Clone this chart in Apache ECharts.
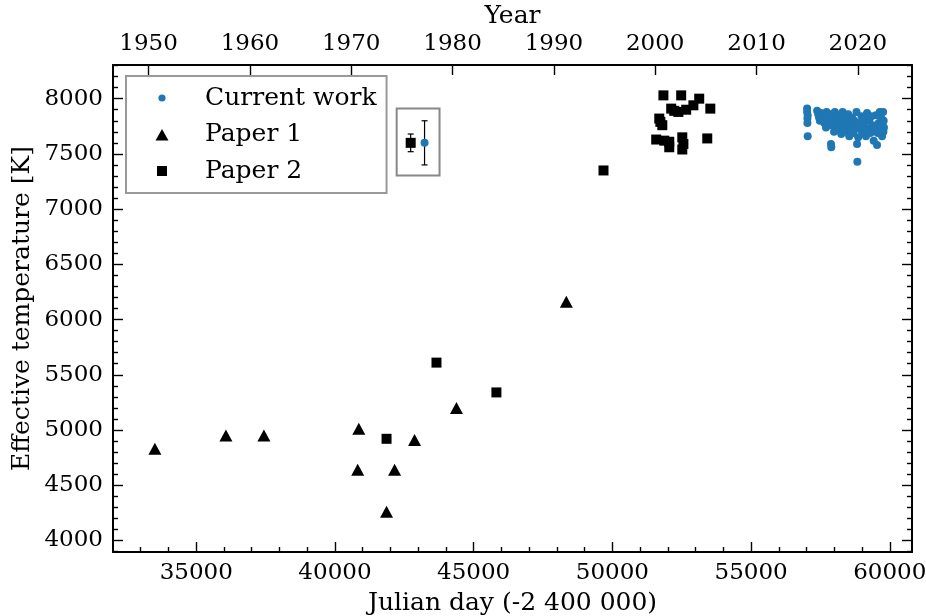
<!DOCTYPE html>
<html>
<head>
<meta charset="utf-8">
<script src="https://cdn.jsdelivr.net/npm/echarts@6/dist/echarts.min.js"></script>
<style>
  html, body { margin: 0; padding: 0; background: #fff; }
  #chart { width: 926px; height: 616px; }
</style>
</head>
<body>
<div id="chart"></div>
<script>
// Julian day (-2 400 000) and effective temperature [K] for each source
const currentWorkJD = [
  57020, 57020, 57040, 57030, 57030, 57040,
  57380, 57420, 57450, 57480, 57520, 57560, 57600, 57640, 57680, 57700,
  57720, 57760, 57800, 57850, 57880, 57890, 57900, 57950, 57990, 58020,
  58060, 58100, 58150, 58180, 58200, 58250, 58280, 58300, 58350, 58390,
  58420, 58460, 58500, 58540, 58560, 58600, 58640, 58680, 58720, 58760,
  58800, 58820, 58830, 58860, 58900, 58940, 58980, 59020, 59060, 59100,
  59140, 59180, 59220, 59260, 59300, 59340, 59380, 59420, 59450, 59500,
  59540, 59560, 59600, 59640, 59680, 59700, 59720, 59760, 59780, 59790, 59770
];
const currentWorkTeff = [
  7910, 7880, 7850, 7820, 7780, 7660,
  7890, 7860, 7830, 7800, 7870, 7840, 7810, 7780, 7850, 7740,
  7880, 7820, 7790, 7860, 7590, 7560, 7760, 7830, 7700, 7880,
  7800, 7750, 7850, 7720, 7810, 7680, 7770, 7880, 7740, 7820,
  7700, 7790, 7860, 7660, 7760, 7720, 7830, 7690, 7800, 7740,
  7880, 7590, 7430, 7650, 7780, 7720, 7840, 7690, 7760, 7820,
  7660, 7870, 7730, 7800, 7690, 7840, 7760, 7620, 7720, 7850,
  7580, 7690, 7780, 7880, 7740, 7820, 7660, 7880, 7800, 7740, 7700
];

const paper1JD   = [33510, 36070, 37440, 40860, 40820, 41860, 42150, 42870, 44380, 48340];
const paper1Teff = [ 4830,  4950,  4950,  5010,  4640,  4260,  4640,  4910,  5200,  6160];

const paper2JD = [
  41860, 43660, 45820, 49680,
  51840, 52480, 53130, 53530, 52120, 52380, 52660, 52920, 51690, 51800,
  51580, 51870, 52050, 52050, 52520, 52520, 52560, 53420, 52230, 51730
];
const paper2Teff = [
  4920, 5610, 5340, 7350,
  8030, 8030, 8000, 7910, 7910, 7880, 7900, 7940, 7820, 7760,
  7630, 7620, 7560, 7610, 7650, 7540, 7590, 7640, 7890, 7790
];

// Typical uncertainties (Paper 2, Current work), drawn inside the small frame
const typicalJD   = [42730, 43230];
const typicalTeff = [7600, 7600];
const typicalErr  = [80, 200];

// Tick values
const jdTicks   = [35000, 40000, 45000, 50000, 55000, 60000];
const yearTicks = [1950, 1960, 1970, 1980, 1990, 2000, 2010, 2020];
const teffTicks = [4000, 4500, 5000, 5500, 6000, 6500, 7000, 7500, 8000];

// ---- layout / styling ----
const JD_MIN = 32000, JD_MAX = 60800;
const T_MIN = 3895, T_MAX = 8305;
const insetFrame = { jd: [42225, 43770], teff: [7305, 7912] };
const FONT = "'DejaVu Serif', 'Liberation Serif', serif";
const BLUE = '#1f77b4';

const yearToJD = y => 51544.5 + (y - 2000) * 365.25;
const jdToYear = jd => Math.round((jd - 51544.5) / 365.25 + 2000);

const range = (a, b, s) => { const r = []; for (let v = a; v <= b + 1e-9; v += s) r.push(v); return r; };
const jdMinor = range(33000, 60000, 1000).filter(v => jdTicks.indexOf(v) < 0);
const teffMinor = range(3900, 8300, 100).filter(v => teffTicks.indexOf(v) < 0);
const yearJD = yearTicks.map(yearToJD);

const zip = (a, b) => a.map((v, i) => [v, b[i]]);

const tickStyle = { color: '#000', width: 1.4 };
const labelStyle = { color: '#000', fontFamily: FONT, fontSize: 23 };
const nameStyle = { color: '#000', fontFamily: FONT, fontSize: 25 };
const plain = v => String(Math.round(v));

function xAxisBase(extra) {
  return Object.assign({
    type: 'value', gridIndex: 0, min: JD_MIN, max: JD_MAX,
    splitLine: { show: false },
    axisLine: { show: false },
    axisLabel: { show: false },
    axisTick: { show: false }
  }, extra);
}
function yAxisBase(extra) {
  return Object.assign({
    type: 'value', gridIndex: 0, min: T_MIN, max: T_MAX,
    splitLine: { show: false },
    axisLine: { show: false },
    axisLabel: { show: false },
    axisTick: { show: false }
  }, extra);
}

const option = {
  animation: false,
  backgroundColor: '#fff',
  grid: { left: 113, right: 14, top: 65, bottom: 64, containLabel: false, outerBoundsMode: 'none' },
  xAxis: [
    xAxisBase({
      position: 'bottom',
      axisLine: { show: true, onZero: false, lineStyle: { color: '#000', width: 2 } },
      axisTick: { show: true, inside: true, length: 10, customValues: jdTicks, lineStyle: tickStyle },
      axisLabel: Object.assign({ show: true, margin: 10, customValues: jdTicks, formatter: plain }, labelStyle),
      name: 'Julian day (-2 400 000)',
      nameLocation: 'middle',
      nameGap: 39,
      nameMoveOverlap: false,
      nameTextStyle: nameStyle
    }),
    xAxisBase({
      position: 'bottom',
      axisTick: { show: true, inside: true, length: 5, customValues: jdMinor, lineStyle: tickStyle }
    }),
    xAxisBase({
      position: 'top',
      axisLine: { show: true, onZero: false, lineStyle: { color: '#000', width: 2 } },
      axisTick: { show: true, inside: true, length: 10, customValues: yearJD, lineStyle: tickStyle },
      axisLabel: Object.assign({ show: true, margin: 9, customValues: yearJD, formatter: v => String(jdToYear(v)) }, labelStyle),
      name: 'Year',
      nameLocation: 'middle',
      nameGap: 36,
      nameMoveOverlap: false,
      nameTextStyle: nameStyle
    })
  ],
  yAxis: [
    yAxisBase({
      position: 'left',
      axisLine: { show: true, onZero: false, lineStyle: { color: '#000', width: 2 } },
      axisTick: { show: true, inside: true, length: 10, customValues: teffTicks, lineStyle: tickStyle },
      axisLabel: Object.assign({ show: true, margin: 10, customValues: teffTicks, formatter: plain }, labelStyle),
      name: 'Effective temperature [K]',
      nameLocation: 'middle',
      nameGap: 78,
      nameRotate: 90,
      nameMoveOverlap: false,
      nameTextStyle: nameStyle
    }),
    yAxisBase({
      position: 'left',
      axisTick: { show: true, inside: true, length: 5, customValues: teffMinor, lineStyle: tickStyle }
    }),
    yAxisBase({
      position: 'right',
      axisLine: { show: true, onZero: false, lineStyle: { color: '#000', width: 2 } },
      axisTick: { show: true, inside: true, length: 10, customValues: teffTicks, lineStyle: tickStyle }
    }),
    yAxisBase({
      position: 'right',
      axisTick: { show: true, inside: true, length: 5, customValues: teffMinor, lineStyle: tickStyle }
    })
  ],
  legend: {
    orient: 'vertical',
    left: 126,
    top: 76,
    padding: [8, 10, 8, 26],
    itemGap: 8.5,
    itemWidth: 40,
    itemHeight: 20,
    backgroundColor: '#fff',
    borderColor: '#999',
    borderWidth: 2,
    borderRadius: 0,
    selectedMode: false,
    textStyle: { color: '#000', fontFamily: FONT, fontSize: 25, lineHeight: 28, padding: [0, 0, 0, 18] },
    data: [
      { name: 'Current work', icon: 'path://M0,0M20,20M6.4,10a3.6,3.6,0,1,0,7.2,0a3.6,3.6,0,1,0,-7.2,0Z' },
      { name: 'Paper 1', icon: 'path://M0,0M20,20M3.5,16L10,4.5L16.5,16Z' },
      { name: 'Paper 2', icon: 'path://M0,0M20,20M5,5L15,5L15,15L5,15Z' }
    ]
  },
  series: [
    {
      name: 'Paper 1', type: 'scatter', xAxisIndex: 0, yAxisIndex: 0,
      symbol: 'triangle', symbolSize: [13, 12],
      itemStyle: { color: '#000', opacity: 1 },
      data: zip(paper1JD, paper1Teff)
    },
    {
      name: 'Paper 2', type: 'scatter', xAxisIndex: 0, yAxisIndex: 0,
      symbol: 'rect', symbolSize: 10,
      itemStyle: { color: '#000', opacity: 1 },
      data: zip(paper2JD, paper2Teff)
    },
    {
      name: 'Current work', type: 'scatter', xAxisIndex: 0, yAxisIndex: 0,
      symbol: 'circle', symbolSize: 8,
      itemStyle: { color: BLUE, opacity: 1 },
      data: zip(currentWorkJD, currentWorkTeff)
    },
    {
      // frame around the typical-uncertainty markers
      type: 'custom', xAxisIndex: 0, yAxisIndex: 0, silent: true,
      data: [[insetFrame.jd[0], insetFrame.teff[0], insetFrame.jd[1], insetFrame.teff[1]]],
      renderItem: (params, api) => {
        const p0 = api.coord([api.value(0), api.value(3)]);
        const p1 = api.coord([api.value(2), api.value(1)]);
        return {
          type: 'rect',
          shape: { x: p0[0], y: p0[1], width: p1[0] - p0[0], height: p1[1] - p0[1] },
          style: { fill: 'none', stroke: '#888', lineWidth: 2 }
        };
      }
    },
    {
      // error bars for the typical uncertainties
      type: 'custom', xAxisIndex: 0, yAxisIndex: 0, silent: true,
      data: typicalJD.map((x, i) => [x, typicalTeff[i], typicalErr[i]]),
      renderItem: (params, api) => {
        const x = api.value(0), y = api.value(1), e = api.value(2);
        const top = api.coord([x, y + e]);
        const bot = api.coord([x, y - e]);
        const cap = 3;
        const ls = { stroke: '#000', lineWidth: 1.2 };
        return {
          type: 'group',
          children: [
            { type: 'line', shape: { x1: top[0], y1: top[1], x2: bot[0], y2: bot[1] }, style: ls },
            { type: 'line', shape: { x1: top[0] - cap, y1: top[1], x2: top[0] + cap, y2: top[1] }, style: ls },
            { type: 'line', shape: { x1: bot[0] - cap, y1: bot[1], x2: bot[0] + cap, y2: bot[1] }, style: ls }
          ]
        };
      }
    },
    {
      type: 'scatter', xAxisIndex: 0, yAxisIndex: 0, silent: true, z: 3,
      symbol: 'rect', symbolSize: 10,
      itemStyle: { color: '#000', opacity: 1 },
      data: [[typicalJD[0], typicalTeff[0]]]
    },
    {
      type: 'scatter', xAxisIndex: 0, yAxisIndex: 0, silent: true, z: 3,
      symbol: 'circle', symbolSize: 8,
      itemStyle: { color: BLUE, opacity: 1 },
      data: [[typicalJD[1], typicalTeff[1]]]
    }
  ]
};

const chart = echarts.init(document.getElementById('chart'), null, { renderer: 'canvas' });
chart.setOption(option);
</script>
</body>
</html>
